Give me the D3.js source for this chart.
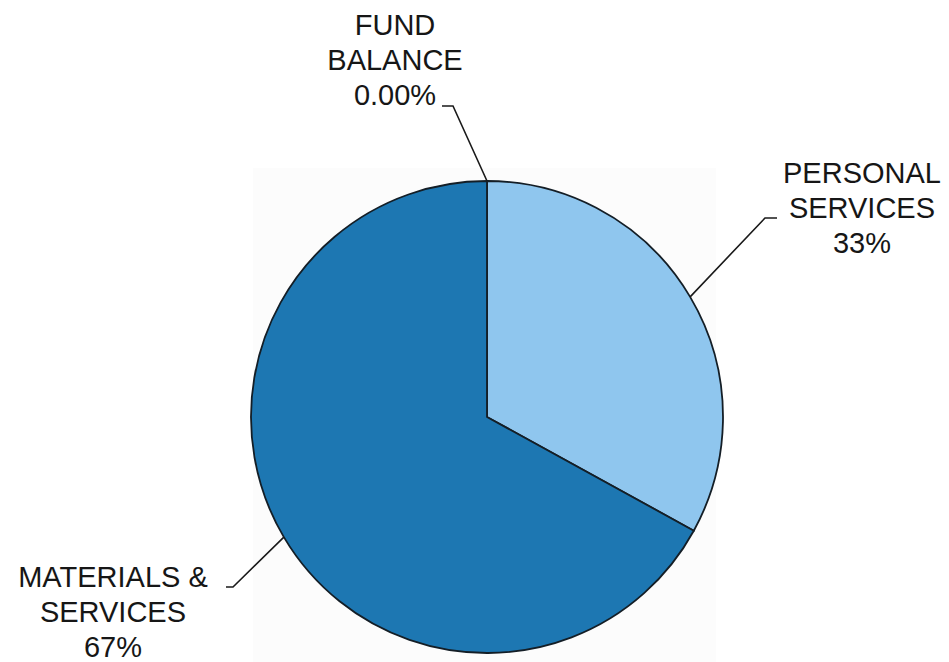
<!DOCTYPE html>
<html>
<head>
<meta charset="utf-8">
<script src="https://cdn.jsdelivr.net/npm/d3@7"></script>
<style>
  html, body { margin: 0; padding: 0; background: #ffffff; }
  svg { display: block; }
  text { font-family: "Liberation Sans", Arial, sans-serif; fill: #161616; }
</style>
</head>
<body>
<svg id="chart" width="949" height="662"></svg>
<script>
// Budget shares by category, clockwise from 12 o'clock
const categories = ["FUND BALANCE", "PERSONAL SERVICES", "MATERIALS & SERVICES"];
const labelLines = [["FUND", "BALANCE"], ["PERSONAL", "SERVICES"], ["MATERIALS &", "SERVICES"]];
const shares = [0.00, 33, 67];
const shareLabels = ["0.00%", "33%", "67%"];
const colors = ["#1d77b2", "#8fc6ee", "#1d77b2"];

const svg = d3.select("#chart");
const cx = 487, cy = 417, r = 236;

// faint plot-area panel behind the pie
svg.append("rect")
  .attr("x", 253).attr("y", 168).attr("width", 463).attr("height", 494)
  .attr("fill", "#fcfcfc");

const pie = d3.pie().sort(null).value(d => d)(shares);
const arc = d3.arc().innerRadius(0).outerRadius(r);

const g = svg.append("g").attr("transform", `translate(${cx},${cy})`);

g.selectAll("path.slice")
  .data(pie)
  .join("path")
  .attr("class", "slice")
  .attr("d", arc)
  .attr("fill", (d, i) => colors[i])
  .attr("stroke", "#141e26")
  .attr("stroke-width", 1.8)
  .attr("stroke-linejoin", "round");

// label layout: text anchor point and leader elbow for each category
const labelPos = [
  { x: 395, y: 35, elbow: [453, 106], tick: [442, 106] },
  { x: 862, y: 183, elbow: [765, 218], tick: [777, 218] },
  { x: 113, y: 587, elbow: [233, 587], tick: [226, 587] }
];
const lineH = 35;

pie.forEach((d, i) => {
  const mid = (d.startAngle + d.endAngle) / 2;
  const ex = cx + r * Math.sin(mid);
  const ey = cy - r * Math.cos(mid);
  const p = labelPos[i];
  svg.append("path")
    .attr("d", d3.line()([[ex, ey], p.elbow, p.tick]))
    .attr("fill", "none")
    .attr("stroke", "#1a1a1a")
    .attr("stroke-width", 1.6);

  const t = svg.append("text")
    .attr("text-anchor", "middle")
    .attr("font-size", 29);
  const lines = labelLines[i].concat([shareLabels[i]]);
  lines.forEach((ln, k) => {
    t.append("tspan")
      .attr("x", p.x)
      .attr("y", p.y + k * lineH)
      .text(ln);
  });
});
</script>
</body>
</html>
